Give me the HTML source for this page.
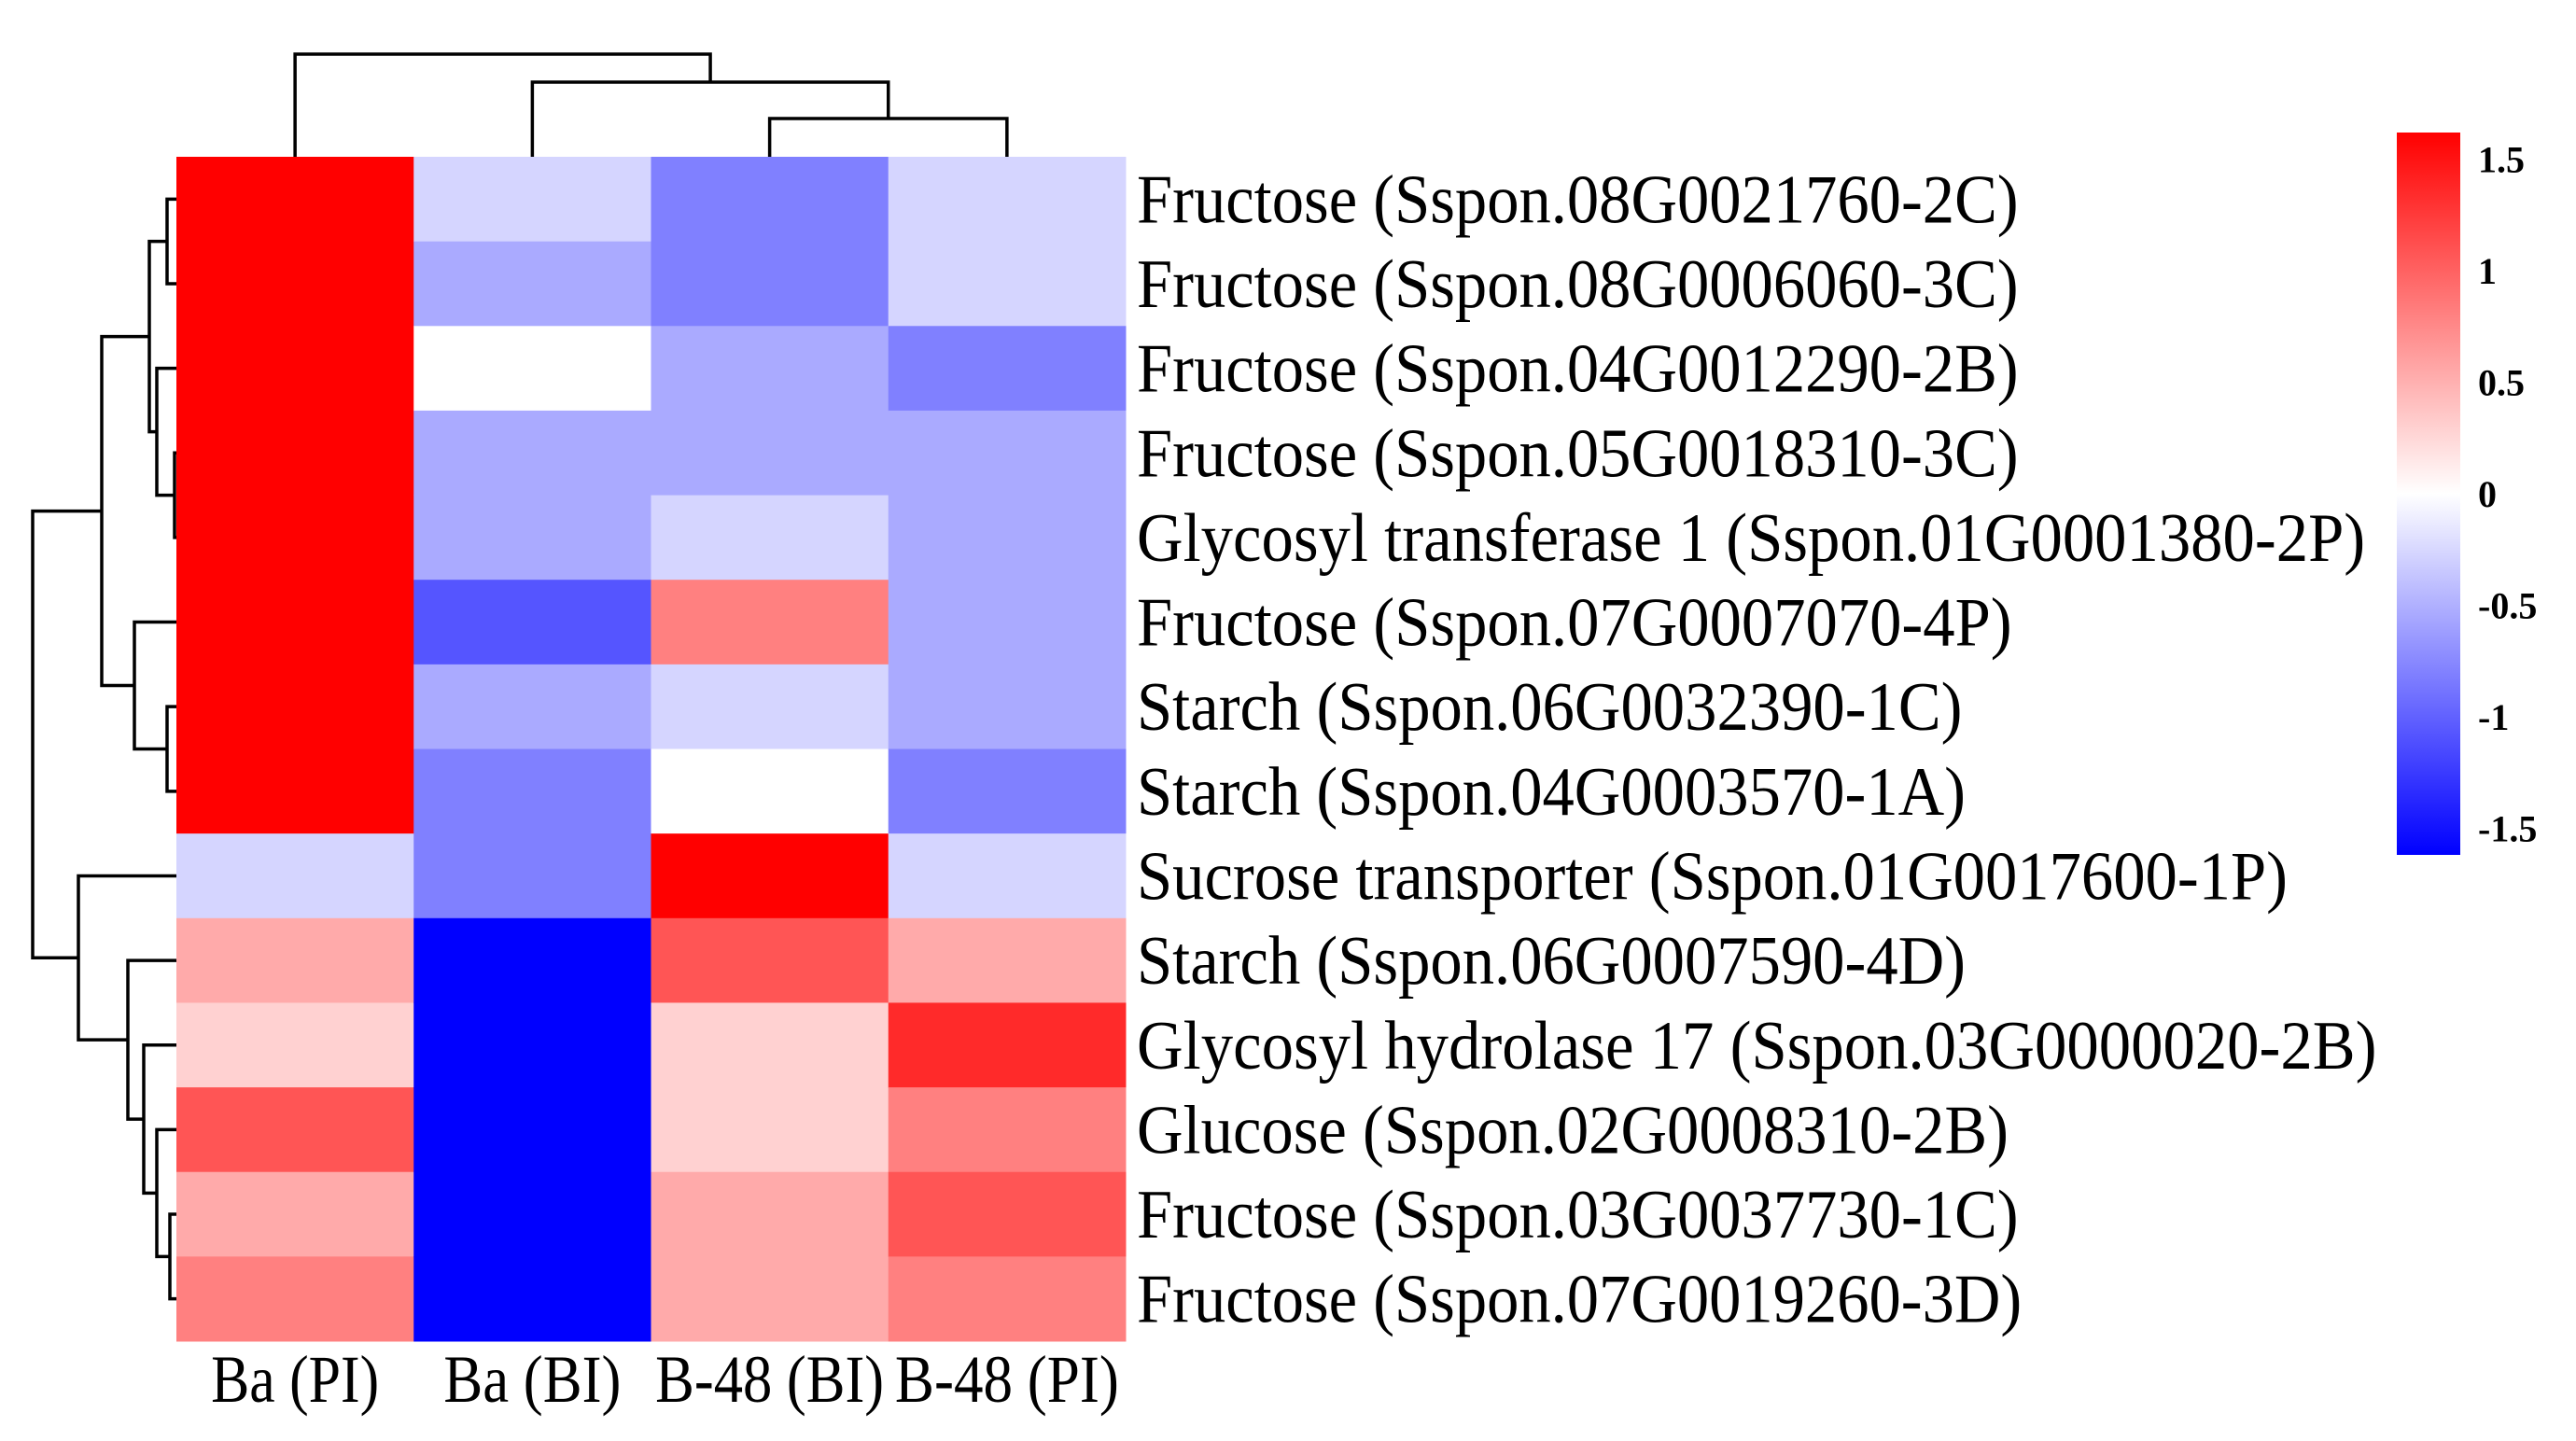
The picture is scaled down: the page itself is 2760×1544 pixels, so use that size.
<!DOCTYPE html>
<html><head><meta charset="utf-8"><style>
html,body{margin:0;padding:0;background:#fff;}
svg{display:block;}
text{font-family:"Liberation Serif",serif;fill:#000;}
</style></head><body>
<svg id="chart" width="2760" height="1544" viewBox="0 0 2760 1544" xmlns="http://www.w3.org/2000/svg">
<g id="cells"></g>
<g id="rowdend"></g>
<g id="coldend"></g>
<g id="rowlabels"></g>
<g id="collabels"></g>
<g id="legend"></g>
</svg>
<script>
const columns = ["Ba (PI)", "Ba (BI)", "B-48 (BI)", "B-48 (PI)"];
const rows = [
"Fructose (Sspon.08G0021760-2C)",
"Fructose (Sspon.08G0006060-3C)",
"Fructose (Sspon.04G0012290-2B)",
"Fructose (Sspon.05G0018310-3C)",
"Glycosyl transferase 1 (Sspon.01G0001380-2P)",
"Fructose (Sspon.07G0007070-4P)",
"Starch (Sspon.06G0032390-1C)",
"Starch (Sspon.04G0003570-1A)",
"Sucrose transporter (Sspon.01G0017600-1P)",
"Starch (Sspon.06G0007590-4D)",
"Glycosyl hydrolase 17 (Sspon.03G0000020-2B)",
"Glucose (Sspon.02G0008310-2B)",
"Fructose (Sspon.03G0037730-1C)",
"Fructose (Sspon.07G0019260-3D)"];
const colBaPI = [1.6,1.6,1.6,1.6,1.6,1.6,1.6,1.6,-0.25,0.5,0.27,1.0,0.5,0.75];
const colBaBI = [-0.25,-0.5,0,-0.5,-0.5,-1.0,-0.5,-0.75,-0.75,-1.6,-1.6,-1.6,-1.6,-1.6];
const colB48BI = [-0.75,-0.75,-0.5,-0.5,-0.25,0.75,-0.25,0,1.6,1.0,0.27,0.27,0.5,0.5];
const colB48PI = [-0.25,-0.25,-0.75,-0.5,-0.5,-0.5,-0.5,-0.75,-0.25,0.5,1.25,0.75,1.0,0.75];
const legendTicks = [1.5,1,0.5,0,-0.5,-1,-1.5];
const legendTickLabels = ["1.5","1","0.5","0","-0.5","-1","-1.5"];
const rowMerges = [[0,1,10],[3,4,2],[2,15,21],[14,16,29],[6,7,10],[5,18,45],[17,19,80],
  [12,13,7],[11,21,21],[10,22,35],[9,23,52],[8,24,105],[20,25,154]];
const colMerges = [[2,3,41],[1,4,80],[0,5,110]];

const NS="http://www.w3.org/2000/svg";
const X0=189, X1=1206, Y0=168, Y1=1437;
const cw=(X1-X0)/columns.length, rh=(Y1-Y0)/rows.length;
const xPos=i=>X0+cw*i, yPos=i=>Y0+rh*i;
function color(v){
  let t=Math.max(-1,Math.min(1,v/1.5));
  const c=Math.round(255*(1-Math.abs(t)));
  return t>=0?`rgb(255,${c},${c})`:`rgb(${c},${c},255)`;
}
function mk(tag,attrs,parent){const e=document.createElementNS(NS,tag);for(const k in attrs)e.setAttribute(k,attrs[k]);parent.appendChild(e);return e;}
const series=[colBaPI,colBaBI,colB48BI,colB48PI];
const cells=document.getElementById('cells');
series.forEach((s,ci)=>s.forEach((v,ri)=>{
  const r=mk('rect',{x:xPos(ci),y:yPos(ri),width:cw+0.5,height:rh+0.5,fill:color(v)},cells);
  
  
}));
const rl=document.getElementById('rowlabels');
const rowW=[534,534,534,534,744,530,500,502,697,502,751,528,534,536];
rows.forEach((t,i)=>{
  const e=mk('text',{x:1218,y:yPos(i)+rh/2+25,'font-size':74,textLength:rowW[i]*1.769,lengthAdjust:'spacingAndGlyphs'},rl);
  e.textContent=t;
  
  
});
const cl=document.getElementById('collabels');
const colW=[180,190,245,240];
columns.forEach((t,i)=>{
  const e=mk('text',{x:xPos(i)+cw/2,y:1502,'font-size':72,'text-anchor':'middle',textLength:colW[i],lengthAdjust:'spacingAndGlyphs'},cl);
  e.textContent=t;
  
  
});
function dend(merges,n,leafPos,g,horizontal){
  const pos={},h={};
  for(let i=0;i<n;i++){pos[i]=leafPos(i);h[i]=0;}
  merges.forEach((m,k)=>{
    const id=n+k,[a,b,ht]=m;
    pos[id]=(pos[a]+pos[b])/2;h[id]=ht;
    let d;
    if(horizontal){
      const xa=X0-h[a],xb=X0-h[b],xm=X0-ht;
      d=`M${xa},${pos[a]}H${xm}V${pos[b]}H${xb}`;
    } else {
      const ya=Y0-h[a],yb=Y0-h[b],ym=Y0-ht;
      d=`M${pos[a]},${ya}V${ym}H${pos[b]}V${yb}`;
    }
    const p=mk('path',{d:d,fill:'none',stroke:'#000','stroke-width':3.5},g);
    
    
  });
}
dend(rowMerges,rows.length,i=>yPos(i)+rh/2,document.getElementById('rowdend'),true);
dend(colMerges,columns.length,i=>xPos(i)+cw/2,document.getElementById('coldend'),false);
const lg=document.getElementById('legend');
const LX=2568,LW=68,LT=142,LB=916,LMAX=1.62;
const defs=mk('defs',{},lg);
const grad=mk('linearGradient',{id:'cb',x1:0,y1:0,x2:0,y2:1},defs);
[[0,'#ff0000'],[0.5,'#ffffff'],[1,'#0000ff']].forEach(s=>mk('stop',{offset:s[0],'stop-color':s[1]},grad));
const bar=mk('rect',{x:LX,y:LT,width:LW,height:LB-LT,fill:'url(#cb)'},lg);


const ly=v=>LT+(LMAX-v)/(2*LMAX)*(LB-LT);
legendTicks.forEach((v,i)=>{
  const e=mk('text',{x:2655,y:ly(v)+14,'font-size':40,'font-weight':'bold'},lg);
  e.textContent=legendTickLabels[i];
  
  
});
</script>
</body></html>
